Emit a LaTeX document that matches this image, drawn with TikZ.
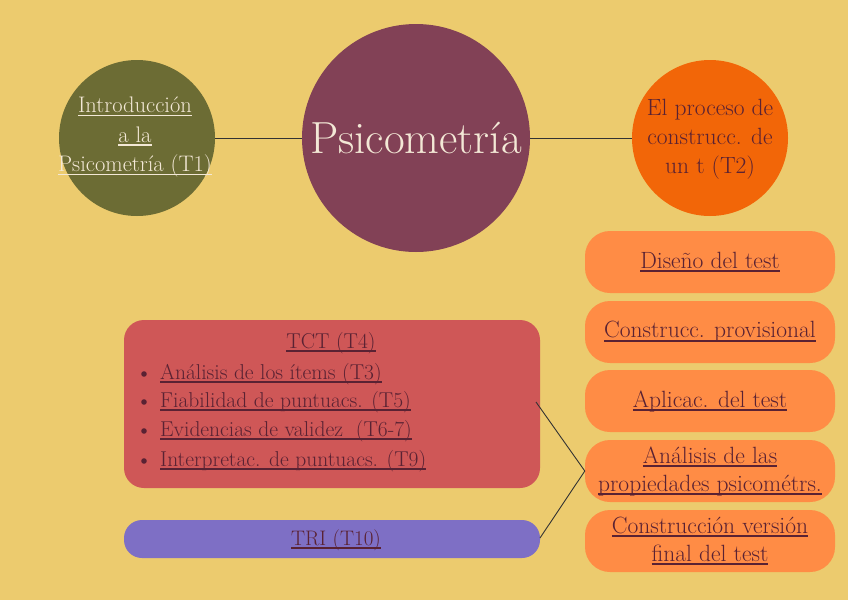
\documentclass[tikz,border=0pt]{standalone}
\usepackage{fontspec}
\definecolor{bg}{HTML}{ECCB6E}
\definecolor{olive}{HTML}{6C6C34}
\definecolor{plum}{HTML}{824156}
\definecolor{orng}{HTML}{F26608}
\definecolor{salmon}{HTML}{FF8C45}
\definecolor{redbox}{HTML}{CF5757}
\definecolor{purp}{HTML}{7E6FC5}
\definecolor{ink}{HTML}{5A2233}
\definecolor{cream}{HTML}{F3E8D6}
\newlength\ulw
\newcommand{\ul}[1]{\settowidth{\ulw}{#1}\rlap{\rule[-0.16em]{\ulw}{0.07em}}#1}
\begin{document}
\begin{tikzpicture}[x=1pt,y=-1pt,
  conn/.style={draw=black!80,line width=0.9pt},
  stepbox/.style={draw=none,fill=salmon,rounded corners=25pt,minimum width=250pt,minimum height=62pt,text=ink,align=center,font=\fontsize{23.5}{28}\selectfont\addfontfeatures{FakeBold=1.2},inner sep=0pt},
  bigtxt/.style={font=\fontsize{22.5}{29.5}\selectfont\addfontfeatures{FakeBold=0.8},align=center},
  item/.style={anchor=west,text=ink,font=\fontsize{21.5}{24}\selectfont\addfontfeatures{FakeBold=0.4},inner sep=0pt}]
\fill[bg] (0,0) rectangle (848,600);
\useasboundingbox (0,0) rectangle (848,600);
% circles
\node[circle,fill=olive,minimum size=156pt,inner sep=0pt] (c1) at (137,138) {};
\node[circle,fill=plum,minimum size=228pt,inner sep=0pt] (c2) at (416,138) {};
\node[circle,fill=orng,minimum size=156pt,inner sep=0pt] (c3) at (710,138) {};
\draw[conn] (c1.east) -- (c2.west);
\draw[conn] (c2.east) -- (c3.west);
\node[bigtxt,text=cream] (t1) at (135,137) {\ul{Introducción}\\\ul{a la}\\\ul{Psicometría (T1)}};
\node[text=cream,font=\fontsize{45}{50}\selectfont] (t2) at (416,138) {Psicometría};
\node[bigtxt,text=ink,font=\fontsize{23.5}{29}\selectfont\addfontfeatures{FakeBold=0.8}] (t3) at (710,139) {El proceso de\\construcc. de\\un t (T2)};
% step boxes
\node[stepbox] (s1) at (710,262) {\ul{Diseño del test}};
\node[stepbox] (s2) at (710,332) {\ul{Construcc. provisional}};
\node[stepbox] (s3) at (710,401) {\ul{Aplicac. del test}};
\node[stepbox] (s4) at (710,471) {\ul{Análisis de las}\\\ul{propiedades psicométrs.}};
\node[stepbox] (s5) at (710,541) {\ul{Construcción versión}\\\ul{final del test}};
% red box
\node[fill=redbox,rounded corners=20pt,minimum width=416pt,minimum height=168pt,inner sep=0pt] (tct) at (332,404) {};
\node[fill=purp,rounded corners=18pt,minimum width=416pt,minimum height=38pt,inner sep=0pt] (tri) at (332,539) {};
\node[item,anchor=center] (tctt) at (331,343) {\ul{TCT (T4)}};
\foreach \y/\n/\t in {374/i1/{Análisis de los ítems (T3)},402/i2/{Fiabilidad de puntuacs. (T5)},431/i3/{Evidencias de validez\ \ (T6-7)},461/i4/{Interpretac. de puntuacs. (T9)}}{
  \fill[ink] (144,\y) circle (2.8pt);
  \node[item] (\n) at (160,\y) {\ul{\t}};
}
\node[item,anchor=center,font=\fontsize{21}{24}\selectfont\addfontfeatures{FakeBold=0.4}] (trit) at (336,540) {\ul{TRI (T10)}};
% connectors
\coordinate (a) at (536,402);
\coordinate (b) at (540,538);
\draw[conn] (a) -- (s4.west) -- (b);
\end{tikzpicture}
\end{document}
